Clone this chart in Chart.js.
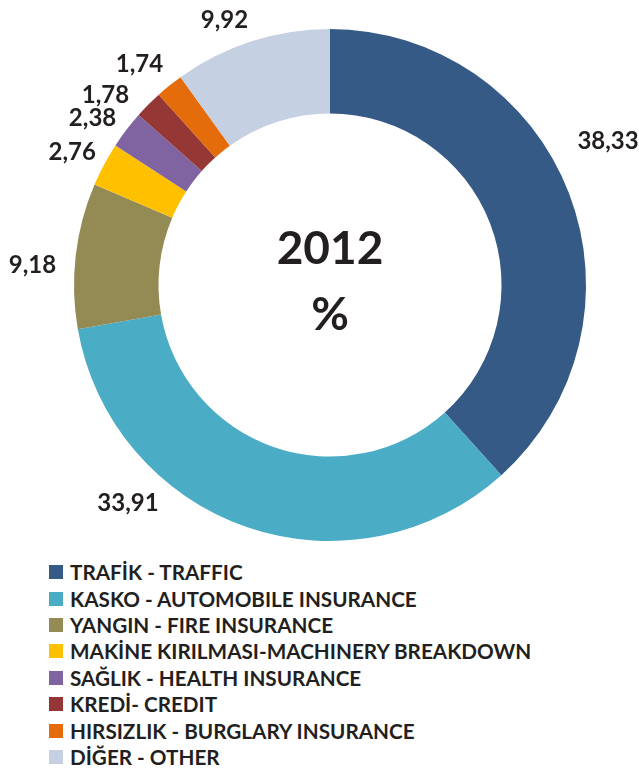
<!DOCTYPE html>
<html lang="tr">
<head>
    <meta charset="UTF-8">
    <title>2012 %</title>
    <script src="https://cdn.jsdelivr.net/npm/chart.js"></script>
    <style>
        body { margin: 0; background: #fff; font-family: Lato, "Open Sans", sans-serif; }
        #wrap { position: relative; width: 639px; height: 769px; }
        #chartBox { position: absolute; left: 0; top: 0; width: 639px; height: 555px; }
        #legend { position: absolute; left: 49px; top: 559px; }
        .row { display: flex; align-items: center; height: 26.4px; font-weight: bold; font-size: 20.7px; color: #231f20; white-space: nowrap; }
        .sw { width: 14px; height: 14px; margin-right: 7px; }
    </style>
</head>
<body>
<div id="wrap">
    <div id="chartBox"><canvas id="myChart"></canvas></div>
    <div id="legend"></div>
</div>
<script>
    const categories = [
        'TRAFİK - TRAFFIC',
        'KASKO - AUTOMOBILE INSURANCE',
        'YANGIN - FIRE INSURANCE',
        'MAKİNE KIRILMASI-MACHINERY BREAKDOWN',
        'SAĞLIK - HEALTH INSURANCE',
        'KREDİ- CREDIT',
        'HIRSIZLIK - BURGLARY INSURANCE',
        'DİĞER - OTHER'
    ];
    const shares = [38.33, 33.91, 9.18, 2.76, 2.38, 1.78, 1.74, 9.92];
    const colors = ['#355a86', '#4bacc6', '#948a54', '#ffc000', '#8064a2', '#953735', '#e46c0a', '#c6d0e3'];
    const centerTitle = '2012';
    const centerUnit = '%';

    // label placement tweaks (degrees around the ring, extra px outward)
    const labelTurn = [-6.4, 23.8, -2.7, -0.8, -2.2, -4.7, -1.9, -3.9];
    const labelPush = [12, 0, 4, -5, -4, 0, 0, -2];

    const textColor = '#231f20';

    const fmt = v => v.toFixed(2).replace('.', ',');

    const outsideLabels = {
        id: 'outsideLabels',
        afterDatasetsDraw(chart) {
            const ctx = chart.ctx;
            const meta = chart.getDatasetMeta(0);
            ctx.save();
            ctx.fillStyle = textColor;
            ctx.font = 'bold 24px Lato';
            ctx.textAlign = 'center';
            ctx.textBaseline = 'middle';
            const h = 24 * 0.72;
            meta.data.forEach((arc, i) => {
                const p = arc.getProps(['x', 'y', 'startAngle', 'endAngle', 'outerRadius'], true);
                const a = (p.startAngle + p.endAngle) / 2 + labelTurn[i] * Math.PI / 180;
                const txt = fmt(shares[i]);
                const w = ctx.measureText(txt).width;
                const d = p.outerRadius + 14 + labelPush[i] + w / 2 * Math.abs(Math.cos(a)) + h / 2 * Math.abs(Math.sin(a));
                ctx.fillText(txt, p.x + d * Math.cos(a), p.y + d * Math.sin(a));
            });
            // centre text
            const c = meta.data[0].getProps(['x', 'y'], true);
            ctx.font = 'bold 46px Lato';
            ctx.fillText(centerTitle, c.x, c.y - 36);
            ctx.fillText(centerUnit, c.x, c.y + 30);
            ctx.restore();
        }
    };

    function buildLegend() {
        const box = document.getElementById('legend');
        categories.forEach((name, i) => {
            const row = document.createElement('div');
            row.className = 'row';
            const sw = document.createElement('span');
            sw.className = 'sw';
            sw.style.background = colors[i];
            row.appendChild(sw);
            row.appendChild(document.createTextNode(name));
            box.appendChild(row);
        });
    }

    function createChart() {
        const ctx = document.getElementById('myChart').getContext('2d');
        new Chart(ctx, {
            type: 'doughnut',
            data: {
                labels: categories,
                datasets: [{
                    data: shares,
                    backgroundColor: colors,
                    borderWidth: 0,
                    hoverOffset: 0,
                    offset: 0
                }]
            },
            options: {
                responsive: true,
                maintainAspectRatio: false,
                animation: false,
                cutout: '67%',
                layout: { padding: { left: 74, right: 53, top: 29, bottom: 14 } },
                plugins: {
                    legend: { display: false },
                    tooltip: { enabled: false }
                }
            },
            plugins: [outsideLabels]
        });
        buildLegend();
    }
    document.addEventListener('DOMContentLoaded', createChart);
</script>
</body>
</html>
